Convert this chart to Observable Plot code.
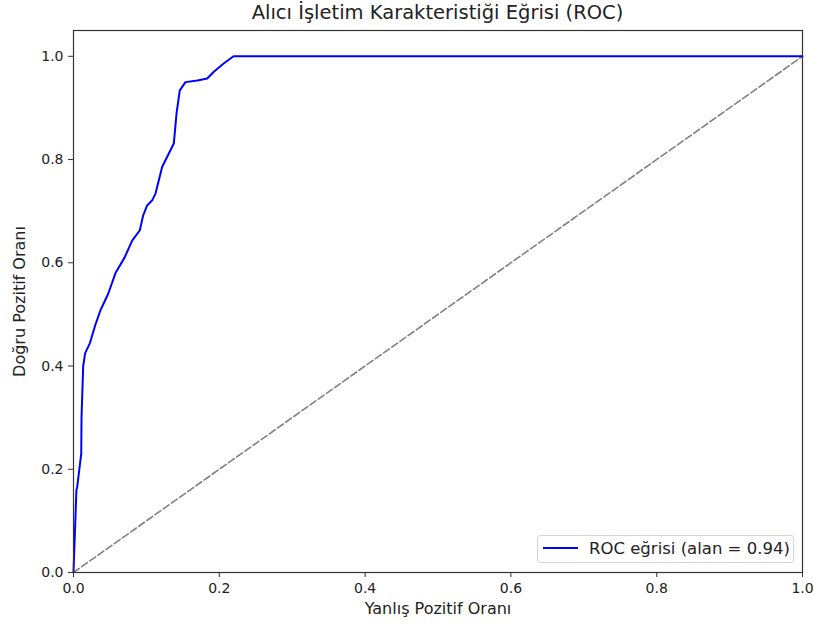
<!DOCTYPE html>
<html><head><meta charset="utf-8">
<script src="https://cdn.jsdelivr.net/npm/d3@7"></script>
<script src="https://cdn.jsdelivr.net/npm/@observablehq/plot@0.6"></script>
<style>
body{margin:0;background:#fff;font-family:"DejaVu Sans",sans-serif;}
#wrap{position:relative;width:814px;height:632px;}
#title{position:absolute;left:73px;width:729px;top:1px;text-align:center;font-size:19.5px;color:#222;white-space:nowrap;}
#chart{position:absolute;left:0;top:29px;}
#legend{position:absolute;left:537px;top:535px;width:257px;height:28px;border:1px solid #d4d4d4;border-radius:3px;background:rgba(255,255,255,0.8);box-sizing:border-box;font-size:16.5px;color:#222;}
#legend .ln{position:absolute;left:5px;top:11px;width:35px;height:0;border-top:2px solid #0000ff;}
#legend .tx{position:absolute;left:51px;top:3px;white-space:nowrap;}
</style>
</head><body>
<div id="wrap">
  <div id="title">Alıcı İşletim Karakteristiği Eğrisi (ROC)</div>
  <div id="chart"></div>
  <div id="legend"><span class="ln"></span><span class="tx">ROC eğrisi (alan = 0.94)</span></div>
</div>
<script>
const fpr = [0, 0.002, 0.004, 0.005, 0.008, 0.0106, 0.011, 0.0133, 0.016, 0.0224, 0.03, 0.037, 0.0476, 0.0576, 0.07, 0.0805, 0.091, 0.0956, 0.101, 0.108, 0.1125, 0.1217, 0.1376, 0.1413, 0.1458, 0.1536, 0.17, 0.1834, 0.1925, 0.206, 0.2195, 1];
const tpr = [0, 0.08, 0.16, 0.165, 0.2, 0.23, 0.3, 0.4, 0.425, 0.444, 0.48, 0.508, 0.54, 0.58, 0.61, 0.643, 0.663, 0.692, 0.711, 0.721, 0.734, 0.786, 0.831, 0.889, 0.934, 0.95, 0.953, 0.957, 0.97, 0.986, 1, 1];
const diagX = [0, 1];
const diagY = [0, 1];
const xTicks = [0, 0.2, 0.4, 0.6, 0.8, 1.0];
const yTicks = [0, 0.2, 0.4, 0.6, 0.8, 1.0];
const xLabel = "Yanlış Pozitif Oranı";
const yLabel = "Doğru Pozitif Oranı";

const roc = fpr.map((x, i) => ({x, y: tpr[i]}));
const diag = diagX.map((x, i) => ({x, y: diagY[i]}));
const fmt = d3.format(".1f");

const chart = Plot.plot({
  width: 814, height: 603,
  marginTop: 1, marginLeft: 73, marginRight: 12, marginBottom: 60,
  style: {fontFamily: "DejaVu Sans", fontSize: "14px", color: "#333", background: "white", overflow: "visible"},
  x: {domain: [0, 1]},
  y: {domain: [0, 1.05]},
  marks: [
    Plot.line(diag, {x: "x", y: "y", stroke: "#808080", strokeWidth: 1.6, strokeDasharray: "7,3"}),
    Plot.line(roc, {x: "x", y: "y", stroke: "#0000ff", strokeWidth: 2}),
    Plot.frame({stroke: "#333", strokeWidth: 1.2}),
    Plot.axisX({ticks: xTicks, tickFormat: fmt, tickSize: 5, tickPadding: 6, label: null, fill: "#222"}),
    Plot.axisY({ticks: yTicks, tickFormat: fmt, tickSize: 5, tickPadding: 5, label: null, fill: "#222"}),
    Plot.text([xLabel], {text: d => d, frameAnchor: "bottom", dy: 41, fontSize: 16, fill: "#222", textAnchor: "middle"}),
    Plot.text([yLabel], {text: d => d, frameAnchor: "left", dx: -54, rotate: -90, fontSize: 16, fill: "#222", textAnchor: "middle"})
  ]
});
document.getElementById("chart").appendChild(chart);
</script>
</body></html>
